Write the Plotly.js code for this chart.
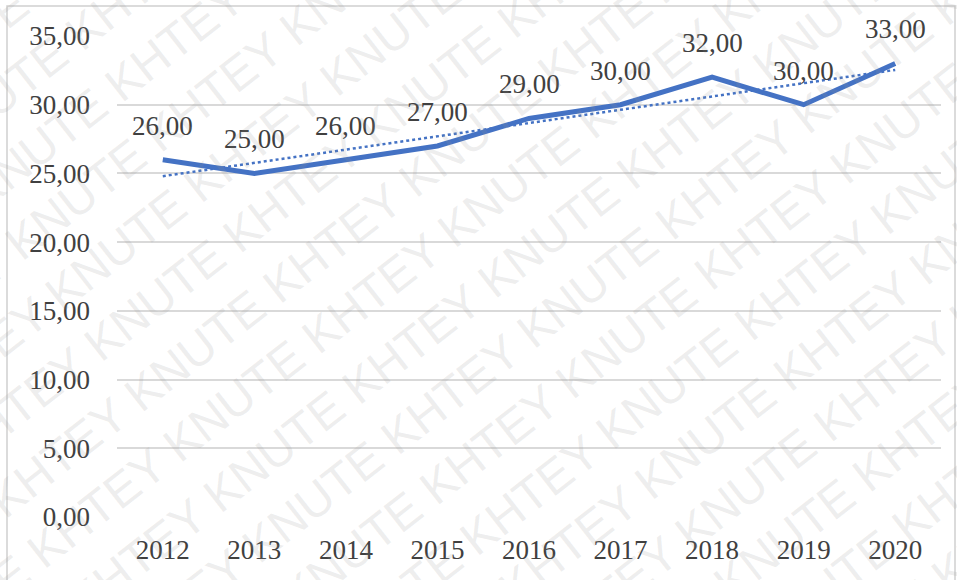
<!DOCTYPE html>
<html><head><meta charset="utf-8">
<script src="https://cdn.plot.ly/plotly-3.0.1.min.js"></script>
<style>html,body{margin:0;padding:0;background:#fff}#c{width:957px;height:580px}</style>
</head><body><div id="c"></div>
<script>
const years = ['2012','2013','2014','2015','2016','2017','2018','2019','2020'];
const values = [26, 25, 26, 27, 29, 30, 32, 30, 33];
const yTicks = [0, 5, 10, 15, 20, 25, 30, 35];

// linear trendline (least squares) over category index, as in the source chart
const n = values.length;
const idx = values.map((_, i) => i);
const mx = idx.reduce((a, b) => a + b, 0) / n;
const my = values.reduce((a, b) => a + b, 0) / n;
let sxy = 0, sxx = 0;
idx.forEach(i => { sxy += (i - mx) * (values[i] - my); sxx += (i - mx) * (i - mx); });
const slope = sxy / sxx, icpt = my - slope * mx;
const trend = idx.map(i => icpt + slope * i);

const fmt = v => v.toFixed(2).replace('.', ',');
const mkFont = () => ({family: '"Liberation Serif", "Times New Roman", serif', size: 27, color: '#404040'});

const W = 957, H = 580, L = 117, T = 36, PW = 824, PH = 481;
const px = x => (x - L) / PW, py = y => 1 - (y - T) / PH;

const ann = values.map((v, i) => ({
  x: i, y: v, xref: 'x', yref: 'y', text: fmt(v),
  showarrow: false, yshift: 34, font: mkFont(), yanchor: 'middle', xanchor: 'center'
}));

// watermark
const wm = [];
const ang = 38 * Math.PI / 180;
const nx = Math.sin(ang), ny = Math.cos(ang);
const str = 'KHTEY KNUTE KHTEY KNUTE KHTEY KNUTE KHTEY KNUTE KHTEY KNUTE';
for (let k = -8; k <= 8; k++) {
  const cx = 480 + k * 64 * nx, cy = 290 + k * 64 * ny;
  wm.push({x: px(cx), y: py(cy), xref: 'paper', yref: 'paper', text: str, showarrow: false,
    textangle: -38, font: {family: '"Liberation Sans", Arial, sans-serif', size: 48, color: 'rgba(150,150,150,0.17)'},
    xanchor: 'center', yanchor: 'middle'});
}

const data = [
  {x: idx, y: trend, type: 'scatter', mode: 'lines', line: {color: '#4472C4', width: 2.5, dash: 'dot'}, hoverinfo: 'skip'},
  {x: idx, y: values, type: 'scatter', mode: 'lines', line: {color: '#4472C4', width: 5}}
];

const layout = {
  width: W, height: H, showlegend: false,
  margin: {l: L, r: W - L - PW, t: T, b: H - T - PH},
  paper_bgcolor: '#fff', plot_bgcolor: '#fff',
  separators: ', ',
  xaxis: {type: 'linear', range: [-0.5, 8.5], tickvals: idx, ticktext: years, showgrid: false, zeroline: false, showline: false,
    ticks: '', tickfont: mkFont(), ticklabelstandoff: 14},
  yaxis: {range: [0, 35], tickvals: yTicks, ticktext: yTicks.map(fmt), tickfont: mkFont(),
    showgrid: true, gridcolor: '#d9d9d9', gridwidth: 2, zeroline: false, showline: false,
    ticks: '', ticklabelstandoff: 26},
  annotations: ann.concat(wm),
  shapes: [{type: 'rect', xref: 'paper', yref: 'paper', x0: px(7), x1: px(955), y0: py(585), y1: py(6),
    line: {color: '#d0d0d0', width: 1.5}, layer: 'below'}]
};
Plotly.newPlot('c', data, layout, {displayModeBar: false, staticPlot: true});
</script></body></html>
